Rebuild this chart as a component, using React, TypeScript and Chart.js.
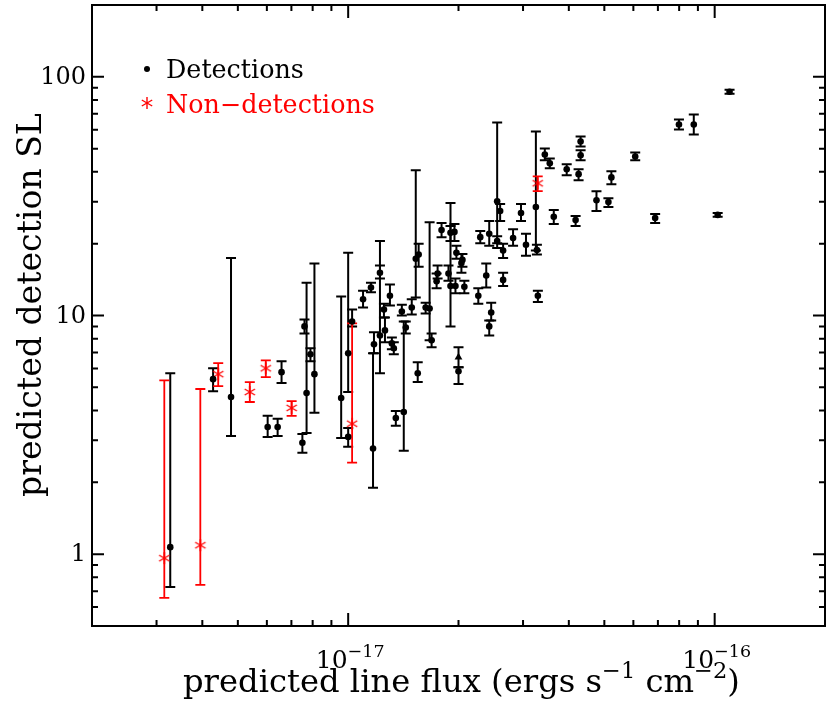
import { useEffect, useRef } from "react";
import { Chart, registerables } from "chart.js";
Chart.register(...registerables);

// ---- Detections ----
const detFlux = [3.27e-18, 4.28e-18, 4.79e-18, 6.03e-18, 6.42e-18, 6.58e-18, 7.5e-18, 7.7e-18, 7.6e-18, 7.89e-18,
  8.09e-18, 9.57e-18, 1.0e-17, 1.0e-17, 1.025e-17, 1.098e-17, 1.154e-17, 1.169e-17, 1.176e-17, 1.221e-17,
  1.221e-17, 1.252e-17, 1.26e-17, 1.3e-17, 1.316e-17, 1.332e-17, 1.349e-17, 1.401e-17, 1.436e-17, 1.418e-17,
  1.491e-17, 1.529e-17, 1.557e-17, 1.548e-17, 1.627e-17, 1.668e-17, 1.689e-17, 1.754e-17, 1.743e-17, 1.798e-17,
  1.902e-17, 1.95e-17, 1.974e-17, 2.037e-17, 2.05e-17, 1.878e-17, 1.902e-17, 1.962e-17, 2.075e-17, 2.0e-17,
  2.265e-17, 2.293e-17, 2.381e-17, 2.426e-17, 2.456e-17, 2.426e-17, 2.55e-17, 2.55e-17, 2.598e-17, 2.647e-17,
  2.647e-17, 2.818e-17, 2.962e-17, 3.056e-17, 3.252e-17, 3.273e-17, 3.293e-17, 3.44e-17, 3.549e-17, 3.639e-17,
  3.947e-17, 4.174e-17, 4.253e-17, 4.307e-17, 4.307e-17, 4.759e-17, 5.129e-17, 5.226e-17, 6.07e-17, 6.88e-17,
  7.99e-17, 8.77e-17, 1.019e-16, 1.098e-16];
const detSL = [1.07, 5.41, 4.55, 3.41, 3.41, 5.79, 2.93, 4.73, 9.0, 6.88,
  5.68, 4.51, 6.94, 3.1, 9.44, 11.7, 13.1, 2.77, 7.57, 15.1,
  8.25, 10.6, 8.66, 12.1, 7.64, 7.29, 3.72, 10.4, 8.91, 3.94,
  10.8, 17.3, 18.0, 5.73, 10.8, 10.7, 7.87, 15.0, 13.9, 22.8,
  22.2, 22.4, 18.3, 16.6, 17.1, 15.0, 13.3, 13.3, 13.2, 5.84,
  12.1, 21.3, 14.7, 22.0, 10.3, 9.0, 30.1, 20.5, 27.4, 18.7,
  14.1, 21.1, 26.9, 19.8, 28.5, 18.8, 12.1, 47.3, 43.4, 25.9,
  41.0, 25.1, 39.1, 53.6, 46.9, 30.4, 29.9, 37.9, 46.4, 25.6,
  63.1, 63.1, 26.4, 86.6];
const detHi = [5.73, 6.01, 17.4, 3.8, 3.69, 6.43, 3.19, 13.7, 9.62, 7.29,
  16.5, 12.0, 18.3, 3.38, 10.6, 12.7, 13.7, 6.94, 8.5, 16.2,
  20.5, 11.2, 9.81, 13.5, 8.09, 7.72, 3.98, 11.1, 9.44, 9.44,
  11.7, 40.6, 20.0, 6.37, 11.3, 24.6, 8.41, 16.2, 15.0, 24.4,
  23.7, 24.2, 19.6, 18.1, 18.1, 16.2, 29.6, 14.3, 14.0, 6.07,
  13.0, 22.6, 16.5, 24.9, 11.3, 9.53, 64.3, 21.5, 29.3, 20.0,
  15.1, 23.0, 29.3, 22.0, 59.0, 19.8, 12.7, 50.1, 45.5, 27.7,
  43.0, 26.1, 41.0, 56.2, 49.2, 33.2, 31.0, 40.2, 48.2, 26.6,
  66.2, 69.5, 26.9, 88.3];
const detLo = [0.729, 4.82, 3.13, 3.1, 3.13, 5.21, 2.66, 3.22, 8.41, 6.43,
  3.91, 3.07, 4.78, 2.82, 9.0, 10.8, 12.5, 1.9, 6.94, 14.3,
  5.73, 9.81, 7.72, 11.0, 7.22, 6.88, 3.45, 10.0, 8.41, 2.71,
  10.1, 11.9, 16.0, 5.26, 10.2, 7.87, 7.36, 14.3, 13.0, 21.3,
  20.5, 20.5, 17.3, 15.1, 16.0, 14.0, 9.0, 12.4, 12.4, 5.16,
  11.2, 20.1, 13.1, 19.6, 9.53, 8.25, 20.1, 19.2, 24.9, 17.4,
  13.3, 19.6, 24.9, 17.8, 18.7, 18.0, 11.4, 44.7, 41.4, 24.2,
  38.7, 23.7, 36.9, 51.1, 44.7, 27.4, 28.5, 35.5, 44.7, 24.4,
  60.1, 57.3, 25.9, 84.9];

// ---- Detection drawn with a triangle symbol ----
const triFlux = [2.0e-17];
const triSL = [6.68];
const triHi = [7.36];
const triLo = [6.07];

// ---- Non-detections ----
const nonFlux = [3.15e-18, 3.95e-18, 4.42e-18, 5.39e-18, 5.96e-18, 7.01e-18, 1.025e-17, 3.29e-17];
const nonSL = [0.962, 1.09, 5.68, 4.78, 6.01, 4.1, 3.52, 35.8];
const nonHi = [5.35, 4.92, 6.31, 5.26, 6.49, 4.38, 9.26, 38.3];
const nonLo = [0.656, 0.743, 5.06, 4.34, 5.52, 3.8, 2.42, 33.2];

// ---- Axes ----
const xRange = [2e-18, 2e-16];
const yRange = [0.5, 200];
const xMajorExp = [-17, -16];
const yMajorTicks = [1, 10, 100];
const yTickLabels = ["1", "10", "100"];
const legendLabels = ["Detections", "Non\u2212detections"];

const FONT = '"DejaVu Serif", serif';
const RED = "#ff0000";

type Seg = { t: string; sup?: boolean };

function segWidth(ctx: CanvasRenderingContext2D, segs: Seg[], size: number) {
  let w = 0;
  for (const s of segs) {
    ctx.font = `${s.sup ? size * 0.7 : size}px ${FONT}`;
    w += ctx.measureText(s.t).width;
  }
  return w;
}
function drawSegs(ctx: CanvasRenderingContext2D, segs: Seg[], x: number, y: number, size: number) {
  ctx.textAlign = "left";
  ctx.textBaseline = "alphabetic";
  let cx = x;
  for (const s of segs) {
    const sz = s.sup ? size * 0.7 : size;
    ctx.font = `${sz}px ${FONT}`;
    ctx.fillText(s.t, cx, s.sup ? y - size * 0.45 : y);
    cx += ctx.measureText(s.t).width;
  }
}
function fitSize(ctx: CanvasRenderingContext2D, segs: Seg[], target: number) {
  return (100 * target) / segWidth(ctx, segs, 100);
}

function makeAsterisk(color: string, r: number) {
  const c = document.createElement("canvas");
  const s = Math.ceil(r * 2 + 4);
  c.width = s;
  c.height = s;
  const g = c.getContext("2d")!;
  g.strokeStyle = color;
  g.lineWidth = 1.4;
  const m = s / 2;
  for (const a of [90, 30, 150]) {
    const rad = (a * Math.PI) / 180;
    g.beginPath();
    g.moveTo(m - r * Math.cos(rad), m - r * Math.sin(rad));
    g.lineTo(m + r * Math.cos(rad), m + r * Math.sin(rad));
    g.stroke();
  }
  return c;
}

export default function App() {
  const ref = useRef<HTMLCanvasElement>(null);
  useEffect(() => {
    const canvas = ref.current!;
    const star = makeAsterisk(RED, 6);

    const pts = (xs: number[], ys: number[]) => xs.map((x, i) => ({ x, y: ys[i] }));

    const plugin = {
      id: "pgframe",
      beforeDatasetsDraw(chart: any) {
        const ctx = chart.ctx as CanvasRenderingContext2D;
        const xs = chart.scales.x, ys = chart.scales.y;
        const cap = 5;
        chart.data.datasets.forEach((ds: any) => {
          ctx.save();
          ctx.strokeStyle = ds.errColor;
          ctx.lineWidth = ds.errWidth;
          ds.data.forEach((p: any, i: number) => {
            const px = xs.getPixelForValue(p.x);
            const yh = ys.getPixelForValue(ds.errHi[i]);
            const yl = ys.getPixelForValue(ds.errLo[i]);
            ctx.beginPath();
            ctx.moveTo(px, yh);
            ctx.lineTo(px, yl);
            ctx.moveTo(px - cap, yh);
            ctx.lineTo(px + cap, yh);
            ctx.moveTo(px - cap, yl);
            ctx.lineTo(px + cap, yl);
            ctx.stroke();
          });
          ctx.restore();
        });
      },
      afterDraw(chart: any) {
        const ctx = chart.ctx as CanvasRenderingContext2D;
        const a = chart.chartArea;
        const xs = chart.scales.x, ys = chart.scales.y;
        ctx.save();
        ctx.strokeStyle = "#000";
        ctx.fillStyle = "#000";
        ctx.lineWidth = 2;
        ctx.strokeRect(a.left, a.top, a.right - a.left, a.bottom - a.top);
        ctx.beginPath();
        // x ticks
        for (let e = -19; e <= -15; e++) {
          for (let m = 1; m <= 9; m++) {
            const v = m * Math.pow(10, e);
            if (v < xRange[0] * 0.999 || v > xRange[1] * 1.001) continue;
            const px = xs.getPixelForValue(v);
            const len = m === 1 ? 13 : 6;
            ctx.moveTo(px, a.bottom);
            ctx.lineTo(px, a.bottom - len);
            ctx.moveTo(px, a.top);
            ctx.lineTo(px, a.top + len);
          }
        }
        // y ticks
        for (let e = -1; e <= 3; e++) {
          for (let m = 1; m <= 9; m++) {
            const v = m * Math.pow(10, e);
            if (v < yRange[0] * 0.999 || v > yRange[1] * 1.001) continue;
            const py = ys.getPixelForValue(v);
            const len = m === 1 ? 12 : 6;
            ctx.moveTo(a.left, py);
            ctx.lineTo(a.left + len, py);
            ctx.moveTo(a.right, py);
            ctx.lineTo(a.right - len, py);
          }
        }
        ctx.stroke();

        // y tick labels
        ctx.font = `24px ${FONT}`;
        ctx.textAlign = "right";
        ctx.textBaseline = "middle";
        yMajorTicks.forEach((v, i) => {
          ctx.fillText(yTickLabels[i], 86, ys.getPixelForValue(v) + 1);
        });

        // x tick labels
        xMajorExp.forEach((e) => {
          const v = Math.pow(10, e);
          const segs: Seg[] = [{ t: "10" }, { t: "\u2212" + Math.abs(e), sup: true }];
          const w = segWidth(ctx, segs, 25);
          drawSegs(ctx, segs, xs.getPixelForValue(v) - w / 2 + 2, 668, 25);
        });

        // axis titles
        const xt: Seg[] = [{ t: "predicted line flux (ergs s" }, { t: "\u22121", sup: true }, { t: " cm" }, { t: "\u22122", sup: true }, { t: ")" }];
        const xsz = fitSize(ctx, xt, 557);
        drawSegs(ctx, xt, 183, 692, xsz);

        const yt: Seg[] = [{ t: "predicted detection SL" }];
        const ysz = fitSize(ctx, yt, 384);
        ctx.save();
        ctx.translate(41, 497);
        ctx.rotate(-Math.PI / 2);
        drawSegs(ctx, yt, 0, 0, ysz);
        ctx.restore();

        // legend
        const l1: Seg[] = [{ t: legendLabels[0] }];
        const l2: Seg[] = [{ t: legendLabels[1] }];
        const lsz = fitSize(ctx, l2, 209);
        ctx.fillStyle = "#000";
        drawSegs(ctx, l1, 166, 78, lsz);
        ctx.beginPath();
        ctx.arc(147, 69, 3, 0, Math.PI * 2);
        ctx.fill();
        ctx.fillStyle = RED;
        drawSegs(ctx, l2, 166, 113, lsz);
        ctx.drawImage(star, 147 - star.width / 2, 103 - star.height / 2);
        ctx.restore();
      },
    };

    const chart = new Chart(canvas, {
      type: "scatter",
      data: {
        datasets: [
          {
            label: "Detections",
            data: pts(detFlux, detSL),
            pointStyle: "circle",
            pointRadius: 3.3,
            backgroundColor: "#000",
            borderColor: "#000",
            borderWidth: 0,
            errHi: detHi,
            errLo: detLo,
            errColor: "#000",
            errWidth: 2,
          } as any,
          {
            label: "Detections (triangle)",
            data: pts(triFlux, triSL),
            pointStyle: "triangle",
            pointRadius: 4.5,
            backgroundColor: "#000",
            borderColor: "#000",
            borderWidth: 0,
            errHi: triHi,
            errLo: triLo,
            errColor: "#000",
            errWidth: 2,
          } as any,
          {
            label: "Non-detections",
            data: pts(nonFlux, nonSL),
            pointStyle: star,
            backgroundColor: RED,
            borderColor: RED,
            errHi: nonHi,
            errLo: nonLo,
            errColor: RED,
            errWidth: 1.8,
          } as any,
        ],
      },
      options: {
        animation: false,
        responsive: false,
        devicePixelRatio: 1,
        layout: { padding: { left: 92, right: 3, top: 3, bottom: 76 } },
        plugins: { legend: { display: false }, tooltip: { enabled: false } },
        scales: {
          x: { type: "logarithmic", min: xRange[0], max: xRange[1], display: false },
          y: { type: "logarithmic", min: yRange[0], max: yRange[1], display: false },
        },
      },
      plugins: [plugin],
    });
    return () => chart.destroy();
  }, []);
  return (
    <div style={{ position: "absolute", left: 0, top: 0, width: 830, height: 702, background: "#fff" }}>
      <canvas ref={ref} width={830} height={702} />
    </div>
  );
}
